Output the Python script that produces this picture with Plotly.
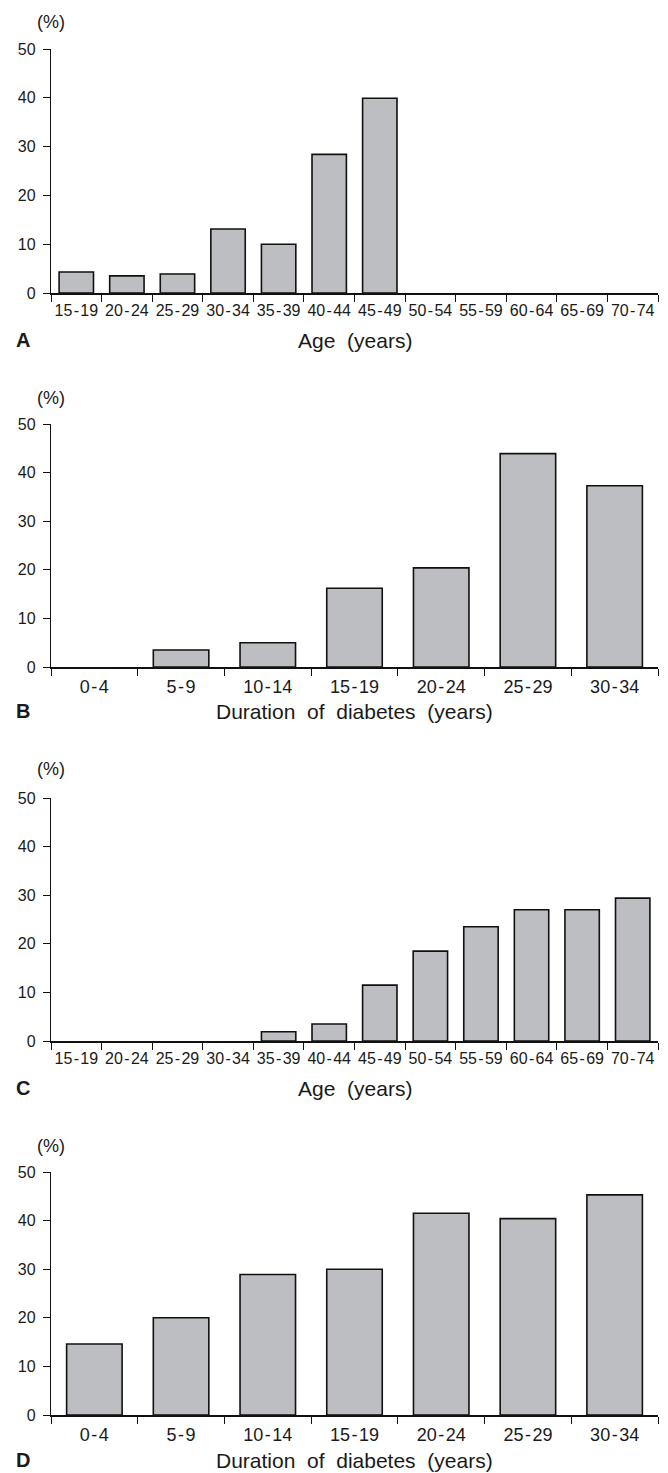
import plotly.graph_objects as go

# ---- data ----
age_groups = ["15-19", "20-24", "25-29", "30-34", "35-39", "40-44", "45-49",
              "50-54", "55-59", "60-64", "65-69", "70-74"]
duration_groups = ["0-4", "5-9", "10-14", "15-19", "20-24", "25-29", "30-34"]

panel_a_values = [4.3, 3.5, 3.9, 13.1, 10.0, 28.4, 39.9, 0, 0, 0, 0, 0]
panel_b_values = [0, 3.5, 5.0, 16.2, 20.4, 43.9, 37.3]
panel_c_values = [0, 0, 0, 0, 1.9, 3.5, 11.5, 18.5, 23.5, 27.0, 27.0, 29.4]
panel_d_values = [14.6, 20.0, 28.9, 30.0, 41.5, 40.4, 45.3]

y_ticks = [0, 10, 20, 30, 40, 50]
panel_letters = ["A", "B", "C", "D"]
x_titles = ["Age (years)", "Duration of diabetes (years)",
            "Age (years)", "Duration of diabetes (years)"]

# ---- layout geometry (pixels) ----
W, H = 668, 1473
FONT = "Liberation Sans, Arial, Helvetica, sans-serif"
TXT = "#1a1a1a"
BAR_FILL = "#bdbec2"

x_left, x_right = 51, 658
# (top pixel of y=50, bottom pixel of y=0)
panel_px = [(49, 293), (424, 667), (798, 1041), (1172, 1415)]
title_y_px = [340, 711, 1088, 1460]
pct_y_px = [22, 398, 769, 1146]


def disp(labels):
    return [s.replace("-", "\u200a-\u200a") for s in labels]


def wide(text):
    return text.replace(" ", "\u00a0 ")


panels = [
    (disp(age_groups), panel_a_values, 0.68, 16),
    (disp(duration_groups), panel_b_values, 0.64, 18),
    (disp(age_groups), panel_c_values, 0.68, 16),
    (disp(duration_groups), panel_d_values, 0.64, 18),
]

fig = go.Figure()
annotations = []
for i, (cats, vals, bw, xfs) in enumerate(panels):
    n = i + 1
    xa = "x" if n == 1 else f"x{n}"
    ya = "y" if n == 1 else f"y{n}"
    fig.add_trace(go.Bar(
        x=cats, y=vals, xaxis=xa, yaxis=ya, width=bw,
        marker=dict(color=BAR_FILL,
                    line=dict(color="#111111",
                              width=[1.6 if v > 0 else 0 for v in vals])),
        showlegend=False, hoverinfo="x+y",
    ))
    top, bot = panel_px[i]
    xkey = "xaxis" if n == 1 else f"xaxis{n}"
    ykey = "yaxis" if n == 1 else f"yaxis{n}"
    fig.update_layout({
        xkey: dict(
            domain=[x_left / W, x_right / W], anchor=ya, type="category",
            range=[-0.5, len(cats) - 0.5], tickson="boundaries",
            showline=True, linecolor="#111111", linewidth=2,
            ticks="outside", ticklen=7, tickwidth=1, tickcolor="#111111",
            tickfont=dict(family=FONT, size=xfs, color=TXT),
            tickangle=0, automargin=False, ticklabelstandoff=2,
            showgrid=False, zeroline=False, fixedrange=True,
        ),
        ykey: dict(
            domain=[1 - bot / H, 1 - top / H], anchor=xa,
            range=[0, 50], tickvals=y_ticks,
            showline=True, linecolor="#111111", linewidth=1.3,
            ticks="outside", ticklen=7, tickwidth=1, tickcolor="#111111",
            tickfont=dict(family=FONT, size=16, color=TXT),
            ticklabelstandoff=4, automargin=False,
            showgrid=False, zeroline=False, fixedrange=True,
        ),
    })
    annotations.append(dict(
        text="(%)", xref="paper", yref="paper", x=51 / W, y=1 - pct_y_px[i] / H,
        xanchor="center", yanchor="middle", showarrow=False,
        font=dict(family=FONT, size=18, color=TXT),
    ))
    annotations.append(dict(
        text=f"<b>{panel_letters[i]}</b>", xref="paper", yref="paper",
        x=14 / W, y=1 - title_y_px[i] / H, xanchor="left", yanchor="middle",
        showarrow=False, font=dict(family=FONT, size=20, color=TXT),
    ))
    annotations.append(dict(
        text=wide(x_titles[i]), xref="paper", yref="paper",
        x=((x_left + x_right) / 2) / W, y=1 - title_y_px[i] / H,
        xanchor="center", yanchor="middle", showarrow=False,
        font=dict(family=FONT, size=21, color=TXT),
    ))

fig.update_layout(
    width=W, height=H, margin=dict(l=0, r=0, t=0, b=0, autoexpand=False),
    paper_bgcolor="white", plot_bgcolor="white",
    bargap=0.3, annotations=annotations,
    font=dict(family=FONT, color=TXT),
)

fig.write_html(
    "out.html",
    config={"displayModeBar": False},
    post_script="document.body.style.margin='0px';document.body.style.overflow='hidden';",
)
